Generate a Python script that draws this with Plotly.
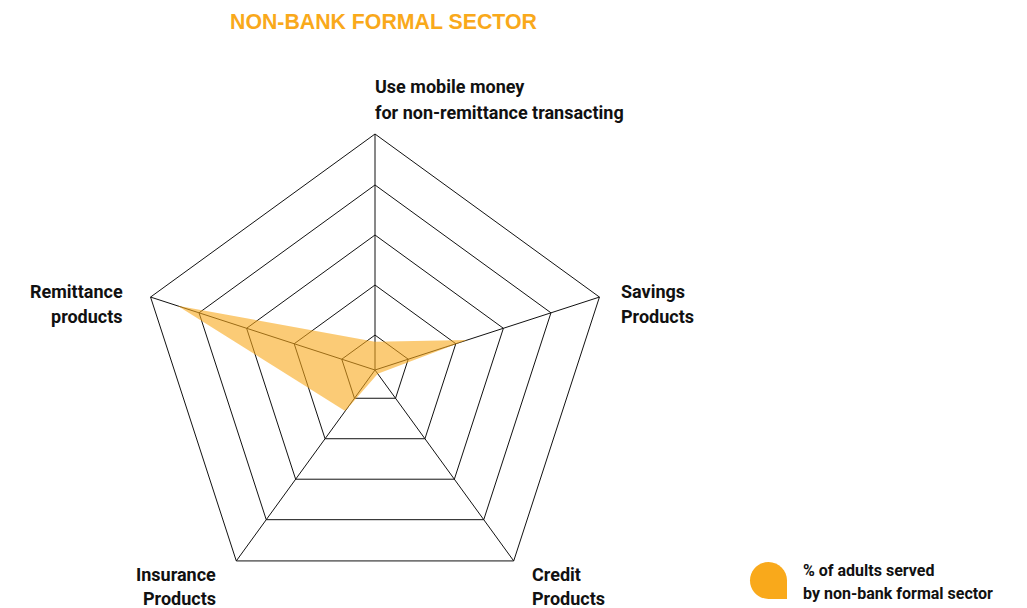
import plotly.graph_objects as go

W, H = 1027, 608

# ---- data ----
categories = ["Use mobile money", "Savings Products", "Credit Products",
              "Insurance Products", "Remittance products"]
label_lines = [
    ["Use mobile money", "for non-remittance transacting"],
    ["Savings", "Products"],
    ["Credit", "Products"],
    ["Insurance", "Products"],
    ["Remittance", "products"],
]
values = [12, 41, 2, 21.5, 88]          # % of adults served
ring_vals = [14.8, 36.0, 57.2, 78.4, 100]
title_text = "NON-BANK FORMAL SECTOR"
legend_lines = ["% of adults served", "by non-bank formal sector"]

ORANGE = "#F9A91B"
FILL = "rgba(249,169,27,0.6)"
LABEL_FONT = "Roboto, sans-serif"


def px(x):
    return x / W


def py(y):
    return 1 - y / H


fig = go.Figure()
fig.add_trace(go.Scatterpolar(
    r=values + values[:1],
    theta=categories + categories[:1],
    mode="lines",
    fill="toself",
    fillcolor=FILL,
    line=dict(color="rgba(0,0,0,0)", width=0),
    hoverinfo="skip",
    showlegend=False,
))

annotations = []
# title
annotations.append(dict(text="<b>%s</b>" % title_text, x=px(228), y=py(22),
                        xref="paper", yref="paper", xanchor="left", yanchor="middle",
                        showarrow=False,
                        font=dict(family="Liberation Sans, Arial, sans-serif",
                                  size=21.3, color=ORANGE)))

# category labels (pixel anchors for each axis end)
label_pos = [
    (373, [87, 112], "left"),
    (619, [291, 316], "left"),
    (530, [574, 598], "left"),
    (218, [574, 598], "right"),
    (125, [291, 316], "right"),
]
for lines, (lx, ys, anchor) in zip(label_lines, label_pos):
    for line, ly in zip(lines, ys):
        annotations.append(dict(text="<b>%s</b>" % line, x=px(lx), y=py(ly),
                                xref="paper", yref="paper", xanchor=anchor,
                                yanchor="middle", showarrow=False,
                                font=dict(family=LABEL_FONT, size=18, color="#111")))

# legend text
for line, ly in zip(legend_lines, [570, 593]):
    annotations.append(dict(text="<b>%s</b>" % line, x=px(801), y=py(ly),
                            xref="paper", yref="paper", xanchor="left",
                            yanchor="middle", showarrow=False,
                            font=dict(family=LABEL_FONT, size=16, color="#111")))

# legend icon: circle with a square bottom-right corner
cx, cy, r = 768.5, 580.5, 18.5
k = 0.5523 * r


def P(x, y):
    return "%.5f,%.5f" % (px(x), py(y))


path = ("M " + P(cx, cy - r) +
        " C " + P(cx - k, cy - r) + " " + P(cx - r, cy - k) + " " + P(cx - r, cy) +
        " C " + P(cx - r, cy + k) + " " + P(cx - k, cy + r) + " " + P(cx, cy + r) +
        " L " + P(cx + r, cy + r) +
        " L " + P(cx + r, cy) +
        " C " + P(cx + r, cy - k) + " " + P(cx + k, cy - r) + " " + P(cx, cy - r) +
        " Z")

fig.update_layout(
    width=W, height=H,
    margin=dict(l=0, r=0, t=0, b=0),
    paper_bgcolor="white",
    plot_bgcolor="white",
    showlegend=False,
    annotations=annotations,
    shapes=[dict(type="path", path=path, xref="paper", yref="paper",
                 fillcolor=ORANGE, line=dict(width=0))],
    polar=dict(
        domain=dict(x=[px(139), px(611)], y=[py(606), py(134)]),
        gridshape="linear",
        bgcolor="rgba(0,0,0,0)",
        radialaxis=dict(range=[0, 100], tickvals=ring_vals, showticklabels=False,
                        ticks="", showline=False, gridcolor="#111", gridwidth=1),
        angularaxis=dict(rotation=90, direction="clockwise", showticklabels=False,
                         ticks="", linecolor="#111", linewidth=1,
                         gridcolor="#111", gridwidth=1),
    ),
)

fig.write_html("out.html", config={"displayModeBar": False},
               post_script="document.body.style.margin='0';document.body.style.overflow='hidden';")
